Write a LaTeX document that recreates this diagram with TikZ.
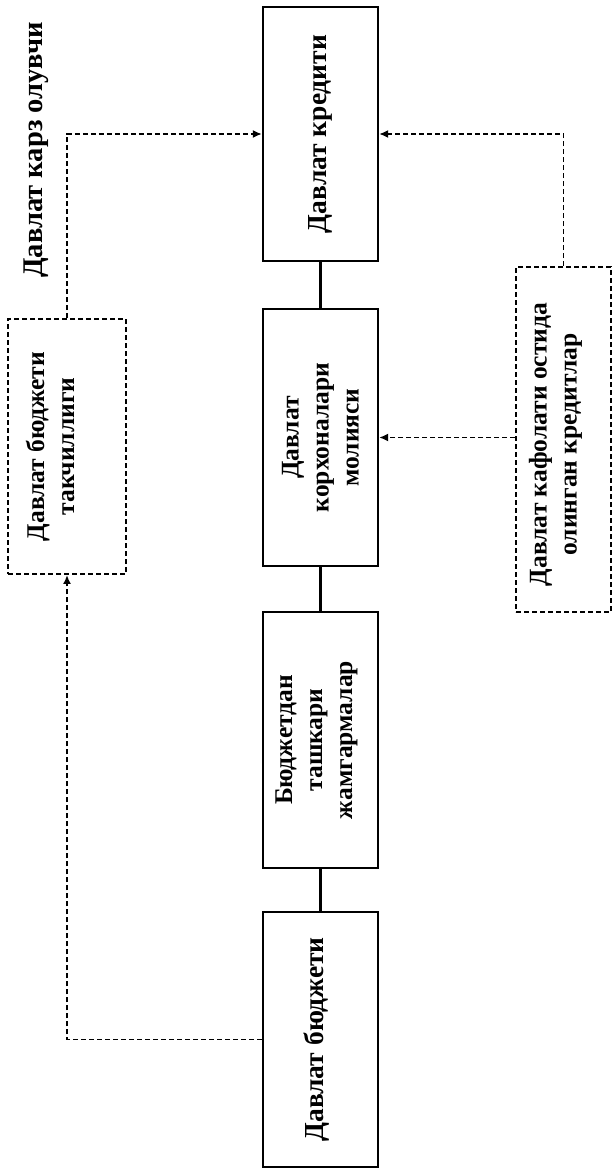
\documentclass[tikz,border=0pt]{standalone}
\usepackage{fontspec}
\setmainfont{Liberation Serif}
\usetikzlibrary{arrows.meta}
\begin{document}
\begin{tikzpicture}[x=1pt,y=-1pt,
  solidbox/.style={draw, line width=2.2pt, minimum width=115pt, inner sep=0pt},
  dashbox/.style={draw, line width=1.9pt, dash pattern=on 5pt off 3pt, inner sep=0pt},
  lbl/.style={rotate=90, align=center, inner sep=0pt, font=\fontsize{25.5}{30}\selectfont\bfseries},
  biglbl/.style={rotate=90, align=center, inner sep=0pt, font=\fontsize{27.5}{32}\selectfont\bfseries},
  link/.style={line width=2.2pt},
  flow/.style={line width=1.9pt, dash pattern=on 5pt off 3pt, -{Latex[length=9pt,width=8pt]}}]
\useasboundingbox[fill=white] (0,0) rectangle (613,1169);

% main column
\node[solidbox, minimum height=254pt] (kred) at (320.5,134) {};
\node[biglbl] (kredT) at (kred.center) {Давлат кредити};
\node[solidbox, minimum height=257pt] (korx) at (320.5,437.5) {};
\node[lbl] (korxT) at (korx.center) {Давлат\\корхоналари\\молияси};
\node[solidbox, minimum height=256pt] (vnb) at (320.5,740) {};
\node[lbl] (vnbT) at ([xshift=-4pt]vnb.center) {Бюджетдан\\ташкари\\жамгармалар};
\node[solidbox, minimum height=255pt] (budj) at (320.5,1039.5) {};
\node[biglbl] (budjT) at ([xshift=-4pt]budj.center) {Давлат бюджети};

% side boxes
\node[dashbox, minimum width=118pt, minimum height=255pt] (takch) at (67,446.5) {};
\node[lbl] (takchT) at ([xshift=-17pt]takch.center) {Давлат бюджети\\такчиллиги};
\node[dashbox, minimum width=95pt, minimum height=345pt] (kafol) at (563.5,439.5) {};
\node[lbl] (kafolT) at ([xshift=-8pt,yshift=-5pt]kafol.center) {Давлат кафолати остида\\олинган кредитлар};

% top label
\node[rotate=90, inner sep=0pt, font=\fontsize{28.5}{33}\selectfont\bfseries] (karz) at (36,150) {Давлат карз олувчи};

% solid links
\draw[link] (kred.south) -- (korx.north);
\draw[link] (korx.south) -- (vnb.north);
\draw[link] (vnb.south) -- (budj.north);

% dashed flows
\draw[flow] (budj.west) -| (takch.south);
\draw[flow] (takch.north) |- (kred.west);
\draw[flow] (kafol.north) |- (kred.east);
\draw[flow] (kafol.west |- korx.east) -- (korx.east);
\end{tikzpicture}
\end{document}
